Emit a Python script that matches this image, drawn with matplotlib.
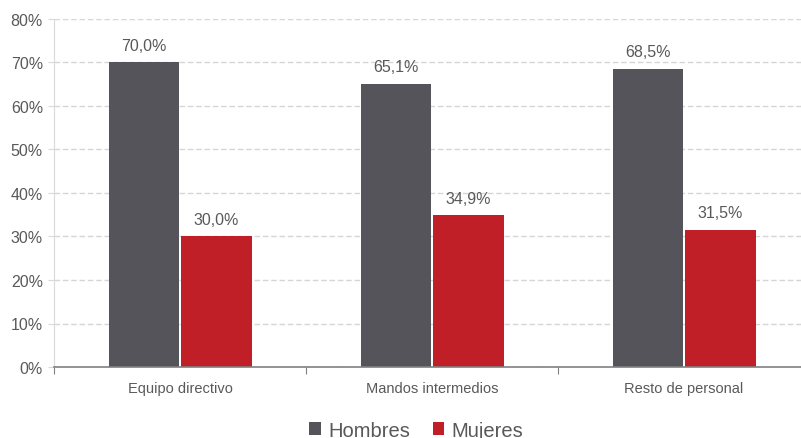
import numpy as np
import matplotlib.pyplot as plt

categories = ["Equipo directivo", "Mandos intermedios", "Resto de personal"]
hombres = [70.0, 65.1, 68.5]
mujeres = [30.0, 34.9, 31.5]
series_names = ["Hombres", "Mujeres"]
colors = ["#55545a", "#c01f27"]
text_color = "#595959"

plt.rcParams['font.family'] = ['Liberation Sans', 'DejaVu Sans']

fig = plt.figure(figsize=(8.01, 4.39), dpi=100)
ax = fig.add_axes([54 / 801, 1 - 368 / 439, (810 - 54) / 801, (368 - 20) / 439])

x = np.arange(len(categories))
w = 0.28
b1 = ax.bar(x - 0.002, hombres, w, align='edge', color=colors[0], label=series_names[0])
for r in b1:
    r.set_x(r.get_x() - w)
b2 = ax.bar(x + 0.004, mujeres, w, align='edge', color=colors[1], label=series_names[1])

for bars, vals in ((b1, hombres), (b2, mujeres)):
    for r, v in zip(bars, vals):
        ax.text(r.get_x() + r.get_width() / 2, v + 2.2, f"{v:.1f}%".replace('.', ','),
                ha='center', va='bottom', fontsize=11.5, color=text_color)

ax.set_xlim(-0.5, 2.5)
ax.set_ylim(0, 80)
ax.set_yticks(np.arange(0, 81, 10))
ax.set_yticklabels([f"{t}%" for t in range(0, 81, 10)])
ax.yaxis.grid(True, linestyle=(0, (4, 2)), color='#d6d6d6', linewidth=1)
ax.set_axisbelow(True)

ax.set_xticks([-0.5, 0.5, 1.5, 2.5])
ax.set_xticklabels([])
ax.set_xticks(x, minor=True)
ax.set_xticklabels(categories, minor=True)
ax.tick_params(axis='x', which='minor', length=0, pad=10, labelsize=10.5, labelcolor=text_color)
ax.tick_params(axis='x', which='major', length=5, color='#808080', direction='out')
ax.tick_params(axis='y', length=4, color='#d9d9d9', labelsize=11.5, labelcolor=text_color, pad=4)

for s in ('top', 'right'):
    ax.spines[s].set_visible(False)
ax.spines['left'].set_color('#d9d9d9')
ax.spines['bottom'].set_color('#808080')
ax.spines['bottom'].set_linewidth(1.2)

fig.legend(loc='lower center', bbox_to_anchor=(0.52, -0.045), ncol=2, frameon=False,
           fontsize=14.5, labelcolor=text_color, handlelength=0.55, handleheight=0.55,
           handletextpad=0.4, columnspacing=1.1)

fig.savefig("out.png", dpi=100)
